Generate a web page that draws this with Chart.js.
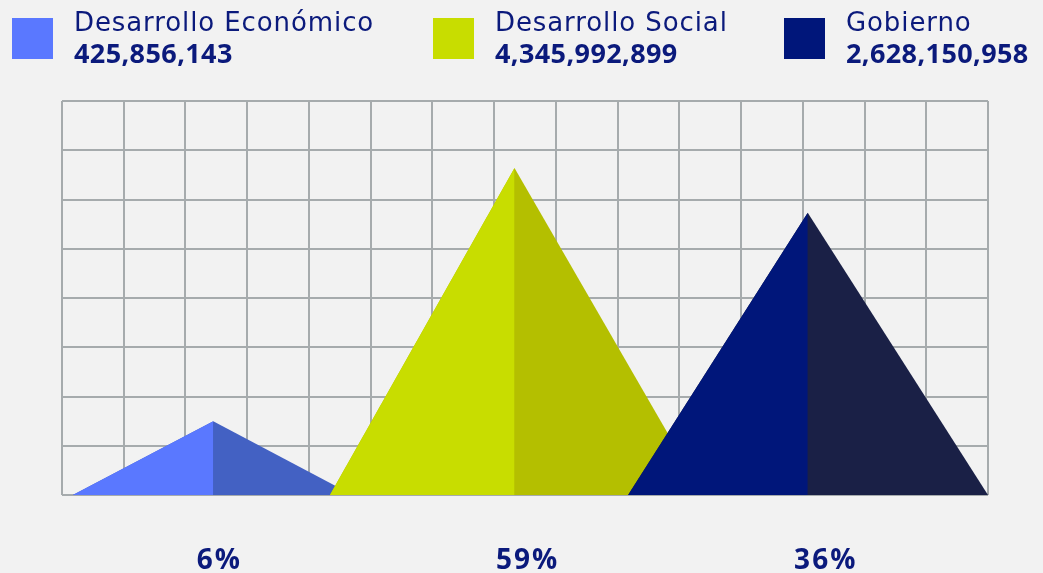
<!DOCTYPE html>
<html>
<head>
<meta charset="utf-8">
<script src="https://cdn.jsdelivr.net/npm/chart.js@4"></script>
<style>
  html, body { margin: 0; padding: 0; background: #f2f2f2; }
  #wrap { width: 1043px; height: 573px; }
</style>
</head>
<body>
<div id="wrap"><canvas id="myChart"></canvas></div>
<script>
// data
const categories = ['Desarrollo Económico', 'Desarrollo Social', 'Gobierno'];
const amounts = [425856143, 4345992899, 2628150958];
const percents = [6, 59, 36];
// triangle shape in grid units (15 columns x 8 rows)
const baseLeft = [0.175, 4.34, 9.17];
const apexX = [2.45, 7.33, 12.08];
const baseRight = [4.71, 10.39, 15.0];
const heights = [1.5, 6.64, 5.73];

const lightColors = ['#5a78ff', '#c8dd00', '#00167a'];
const darkColors = ['#4361c3', '#b4bf00', '#1a2046'];
const textColor = '#0b1a7c';

const datasets = [];
categories.forEach((name, i) => {
    // whole triangle in the dark shade, light left half over it
    datasets.push({
        label: name,
        data: [{x: baseLeft[i], y: 0}, {x: apexX[i], y: heights[i]}, {x: baseRight[i], y: 0}],
        backgroundColor: darkColors[i],
        fill: 'origin',
        order: 11 - i * 2
    });
    datasets.push({
        label: name + ' (izq)',
        data: [{x: baseLeft[i], y: 0}, {x: apexX[i], y: heights[i]}],
        backgroundColor: lightColors[i],
        fill: 'origin',
        order: 10 - i * 2
    });
});

const textPlugin = {
    id: 'texts',
    afterDraw(chart) {
        const ctx = chart.ctx;
        const xs = chart.scales.x;
        ctx.save();
        ctx.textBaseline = 'alphabetic';
        // legend
        const legendX = [12, 433, 784];
        categories.forEach((name, i) => {
            ctx.fillStyle = lightColors[i];
            ctx.fillRect(legendX[i], 18, 41, 41);
            ctx.fillStyle = textColor;
            ctx.textAlign = 'left';
            ctx.font = '26px "DejaVu Sans"';
            ctx.letterSpacing = '0.9px';
            ctx.fillText(name, legendX[i] + 62, 31);
            ctx.font = 'bold 27px "Open Sans"';
            ctx.letterSpacing = '0.4px';
            ctx.fillText(amounts[i].toLocaleString('en-US'), legendX[i] + 62, 63);
        });
        // percentages under the triangles
        const shift = [6, 13, 18];
        ctx.font = 'bold 28px "Open Sans"';
        ctx.letterSpacing = '2px';
        ctx.textAlign = 'center';
        percents.forEach((p, i) => {
            ctx.fillText(p + '%', xs.getPixelForValue(apexX[i]) + shift[i], 569);
        });
        ctx.restore();
    }
};

const ctx = document.getElementById('myChart').getContext('2d');
const myChart = new Chart(ctx, {
    type: 'scatter',
    data: { datasets: datasets },
    options: {
        responsive: true,
        maintainAspectRatio: false,
        animation: false,
        showLine: true,
        elements: {
            point: { radius: 0, hoverRadius: 0 },
            line: { borderWidth: 0, borderColor: 'rgba(0,0,0,0)', tension: 0 }
        },
        layout: { padding: { left: 62, top: 101, right: 55, bottom: 78 } },
        plugins: {
            legend: { display: false },
            tooltip: { enabled: false }
        },
        scales: {
            x: {
                type: 'linear', min: 0, max: 15,
                ticks: { display: false, stepSize: 1 },
                grid: { color: '#a6abad', lineWidth: 2, drawTicks: false },
                border: { display: false }
            },
            y: {
                min: 0, max: 8,
                ticks: { display: false, stepSize: 1 },
                grid: { color: '#a6abad', lineWidth: 2, drawTicks: false },
                border: { display: false }
            }
        }
    },
    plugins: [textPlugin]
});
</script>
</body>
</html>
